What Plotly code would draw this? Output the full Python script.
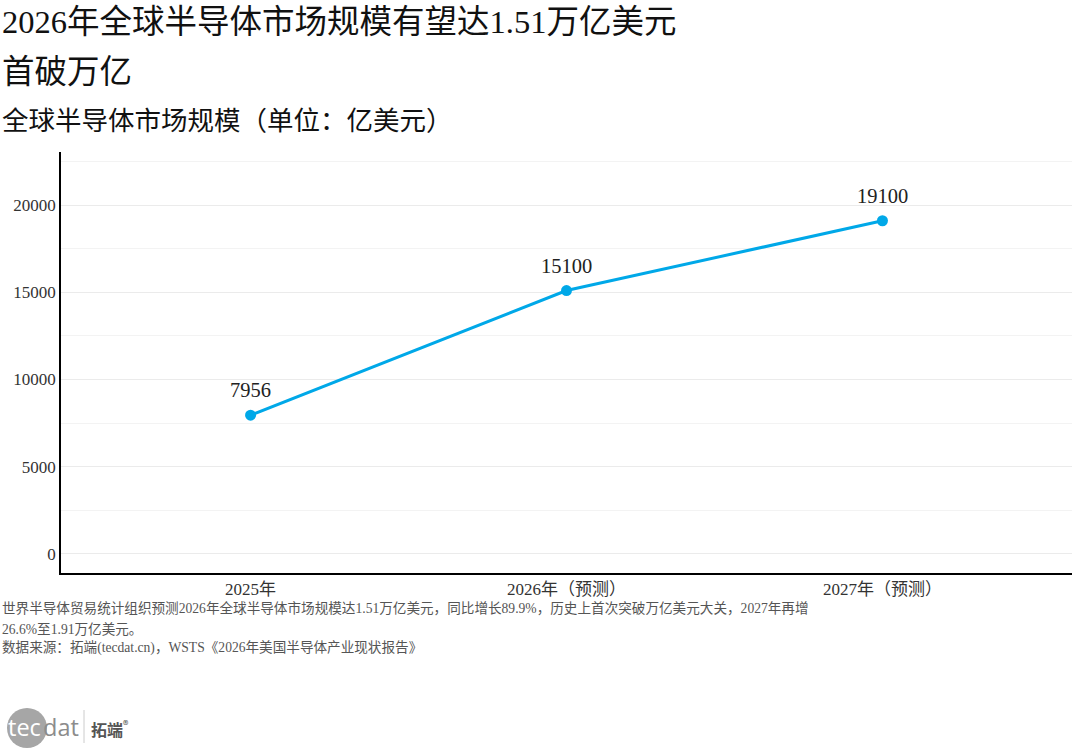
import plotly.graph_objects as go

# ---- data ----
categories = ["2025年", "2026年（预测）", "2027年（预测）"]
values = [7956, 15100, 19100]
value_labels = ["7956", "15100", "19100"]
y_ticks = [0, 5000, 10000, 15000, 20000]
y_minor = [2500, 7500, 12500, 17500, 22500]

title_line1 = "2026年全球半导体市场规模有望达1.51万亿美元"
title_line2 = "首破万亿"
subtitle = "全球半导体市场规模（单位：亿美元）"
note_line1 = "世界半导体贸易统计组织预测2026年全球半导体市场规模达1.51万亿美元，同比增长89.9%，历史上首次突破万亿美元大关，2027年再增"
note_line2 = "26.6%至1.91万亿美元。"
source_line = "数据来源：拓端(tecdat.cn)，WSTS《2026年美国半导体产业现状报告》"

FONT = "Liberation Serif, Noto Sans CJK SC, serif"
LINE_COLOR = "#00A8E8"

W, H = 1080, 756
L, R, T, B = 61, 8, 152, 183
PW = W - L - R
PH = H - T - B


def px(x):
    return (x - L) / PW


def py(y):
    return (H - B - y) / PH


fig = go.Figure()
fig.add_trace(go.Scatter(
    x=list(range(len(categories))), y=values, mode="lines+markers",
    line=dict(color=LINE_COLOR, width=3),
    marker=dict(color=LINE_COLOR, size=11),
    hoverinfo="skip", showlegend=False,
))

annotations = []
for i, (v, lab) in enumerate(zip(values, value_labels)):
    annotations.append(dict(x=i, y=v, xref="x", yref="y", text=lab, showarrow=False,
                            yshift=25, font=dict(family=FONT, size=20.5, color="#222222")))

annotations += [
    dict(x=px(0), y=py(22), xref="paper", yref="paper", xanchor="left", yanchor="middle",
         text=title_line1, showarrow=False, font=dict(family=FONT, size=32.5, color="#111111")),
    dict(x=px(0), y=py(72), xref="paper", yref="paper", xanchor="left", yanchor="middle",
         text=title_line2, showarrow=False, font=dict(family=FONT, size=32.5, color="#111111")),
    dict(x=px(0), y=py(121), xref="paper", yref="paper", xanchor="left", yanchor="middle",
         text=subtitle, showarrow=False, font=dict(family=FONT, size=26.5, color="#111111")),
    dict(x=px(0), y=py(608), xref="paper", yref="paper", xanchor="left", yanchor="middle",
         text=note_line1, showarrow=False, font=dict(family=FONT, size=13.6, color="#555555")),
    dict(x=px(0), y=py(629), xref="paper", yref="paper", xanchor="left", yanchor="middle",
         text=note_line2, showarrow=False, font=dict(family=FONT, size=13.6, color="#555555")),
    dict(x=px(0), y=py(648), xref="paper", yref="paper", xanchor="left", yanchor="middle",
         text=source_line, showarrow=False, font=dict(family=FONT, size=13.6, color="#555555")),
    # logo texts
    dict(x=px(6), y=py(727), xref="paper", yref="paper", xanchor="left", yanchor="middle",
         text="tec", showarrow=False, font=dict(family="Open Sans, sans-serif", size=23.5, color="#ffffff")),
    dict(x=px(41), y=py(727), xref="paper", yref="paper", xanchor="left", yanchor="middle",
         text="dat", showarrow=False, font=dict(family="Open Sans, sans-serif", size=23.5, color="#8c8c8c")),
    dict(x=px(89), y=py(728), xref="paper", yref="paper", xanchor="left", yanchor="middle",
         text="<b>拓端</b><sup>®</sup>", showarrow=False,
         font=dict(family="Noto Sans CJK SC", size=16, color="#555555")),
]

shapes = [
    dict(type="circle", xref="paper", yref="paper", xsizemode="pixel", ysizemode="pixel",
         xanchor=px(27), yanchor=py(728), x0=-20, x1=20, y0=-20, y1=20,
         fillcolor="#a6a6a6", line=dict(width=0), layer="above"),
    dict(type="line", xref="paper", yref="paper", x0=px(84), x1=px(84), y0=py(710), y1=py(743),
         line=dict(color="#cccccc", width=1)),
]

fig.update_layout(
    width=W, height=H,
    margin=dict(l=L, r=R, t=T, b=B),
    paper_bgcolor="white", plot_bgcolor="white",
    annotations=annotations, shapes=shapes,
    xaxis=dict(
        range=[-0.6, 2.6], tickmode="array", tickvals=list(range(len(categories))),
        ticktext=categories, showgrid=False, zeroline=False,
        showline=True, linecolor="#000000", linewidth=1.5, ticks="", ticklen=0,
        tickfont=dict(family=FONT, size=17, color="#333333"),
    ),
    yaxis=dict(
        range=[-1090, 23040], tickmode="array", tickvals=y_ticks,
        ticktext=[str(t) for t in y_ticks],
        showgrid=True, gridcolor="#ebebeb", gridwidth=1.2, zeroline=False,
        minor=dict(tickmode="array", tickvals=y_minor, showgrid=True, gridcolor="#f3f3f3", gridwidth=1),
        showline=True, linecolor="#000000", linewidth=1.5, ticks="", ticklen=0,
        tickfont=dict(family=FONT, size=17, color="#333333"),
    ),
)

fig.write_html("out.html", config={"displayModeBar": False},
               post_script="document.body.style.margin='0';")
